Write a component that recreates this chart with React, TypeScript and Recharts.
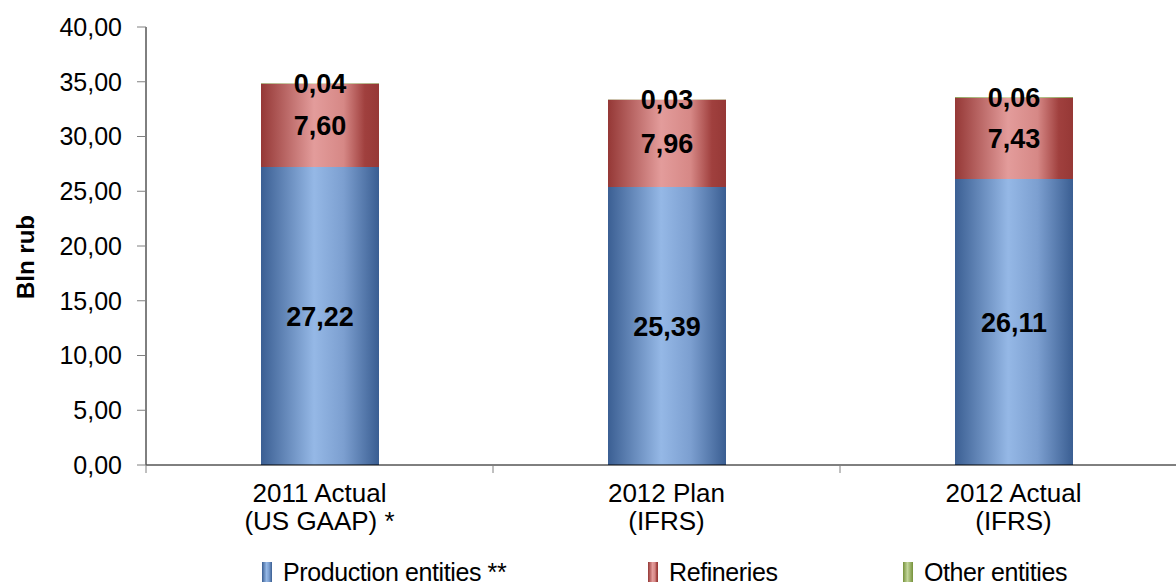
import { BarChart, Bar, XAxis, YAxis, Legend, LabelList } from 'recharts'

const categoryTop = ['2011 Actual', '2012 Plan', '2012 Actual']
const categoryBottom = ['(US GAAP) *', '(IFRS)', '(IFRS)']
const production = [27.22, 25.39, 26.11]
const refineries = [7.6, 7.96, 7.43]
const other = [0.04, 0.03, 0.06]
const yTicks = [0, 5, 10, 15, 20, 25, 30, 35, 40]

const seriesNames = ['Production entities **', 'Refineries', 'Other entities']

const data = categoryTop.map((name, i) => ({
  name,
  sub: categoryBottom[i],
  production: production[i],
  refineries: refineries[i],
  other: other[i]
}))

const FONT = '"Liberation Sans", Arial, sans-serif'
const comma = (v: any) => Number(v).toFixed(2).replace('.', ',')

function CategoryTick(props: any) {
  const { x, y, payload, index } = props
  const half = payload && payload.offset ? payload.offset : 173.5
  const row = data[index] || data.find(d => d.name === payload.value)
  return (
    <g>
      <line x1={x - half} x2={x - half} y1={y - 9} y2={y} stroke="#808080" />
      <text x={x} y={y + 29} textAnchor="middle" fontSize={26} fill="#000" fontFamily={FONT}>
        <tspan x={x}>{payload.value}</tspan>
        <tspan x={x} dy={28}>{row ? row.sub : ''}</tspan>
      </text>
    </g>
  )
}

// rotated axis title, a bit below the plot's middle
function AxisTitle(props: any) {
  const vb = props.viewBox || { y: 27, height: 438 }
  const cx = 25
  const cy = vb.y + vb.height / 2 + 11
  return (
    <text
      x={cx}
      y={cy}
      transform={`rotate(-90, ${cx}, ${cy})`}
      textAnchor="middle"
      dominantBaseline="central"
      fontSize={24}
      fontWeight="bold"
      fill="#000"
      fontFamily={FONT}
    >
      Bln rub
    </text>
  )
}

const legendFills = ['url(#gBlue)', 'url(#gRed)', 'url(#gGreen)']
const legendLeft = [262, 648, 903]

function LegendBox() {
  return (
    <div style={{ position: 'relative', height: 50, width: 1200, fontFamily: FONT }}>
      {seriesNames.map((n, i) => (
        <div
          key={n}
          style={{ position: 'absolute', left: legendLeft[i], bottom: 0, display: 'flex', alignItems: 'center', height: 26 }}
        >
          <svg width={10} height={20} style={{ marginRight: 11 }}>
            <rect x={0} y={0} width={10} height={20} fill={legendFills[i]} />
          </svg>
          <span style={{ fontSize: 25, color: '#000', whiteSpace: 'nowrap', letterSpacing: -0.4 }}>{n}</span>
        </div>
      ))}
    </div>
  )
}

export default function App() {
  return (
    <div style={{ position: 'absolute', left: 0, top: 0, width: 1176, height: 585, overflow: 'hidden', background: '#fff' }}>
      <BarChart
        width={1200}
        height={585}
        data={data}
        margin={{ top: 27, right: 13, left: 0, bottom: 0 }}
      >
        <defs>
          <linearGradient id="gBlue" x1="0" y1="0" x2="1" y2="0">
            <stop offset="0%" stopColor="#3B5F93" />
            <stop offset="45%" stopColor="#95B8E6" />
            <stop offset="70%" stopColor="#7C9FD0" />
            <stop offset="100%" stopColor="#3A5E92" />
          </linearGradient>
          <linearGradient id="gRed" x1="0" y1="0" x2="1" y2="0">
            <stop offset="0%" stopColor="#953836" />
            <stop offset="45%" stopColor="#E39C9B" />
            <stop offset="70%" stopColor="#D68886" />
            <stop offset="88%" stopColor="#A0403E" />
            <stop offset="100%" stopColor="#963836" />
          </linearGradient>
          <linearGradient id="gGreen" x1="0" y1="0" x2="1" y2="0">
            <stop offset="0%" stopColor="#76923B" />
            <stop offset="45%" stopColor="#C3D69B" />
            <stop offset="100%" stopColor="#76923B" />
          </linearGradient>
        </defs>
        <XAxis
          dataKey="name"
          height={70}
          stroke="#000"
          tickLine={false}
          interval={0}
          tick={<CategoryTick />}
        />
        <YAxis
          width={146}
          domain={[0, 40]}
          ticks={yTicks}
          interval={0}
          tickFormatter={comma}
          stroke="#000"
          tickLine={{ stroke: '#808080' }}
          tickSize={9}
          tickMargin={15}
          tick={{ fill: '#000', fontSize: 25, fontFamily: FONT }}
          label={<AxisTitle />}
        />
        <Legend verticalAlign="bottom" content={<LegendBox />} />
        <Bar dataKey="production" stackId="a" fill="url(#gBlue)" barSize={118} isAnimationActive={false} name={seriesNames[0]}>
          <LabelList dataKey="production" position="center" formatter={comma} fill="#000" fontSize={27} fontWeight="bold" fontFamily={FONT} />
        </Bar>
        <Bar dataKey="refineries" stackId="a" fill="url(#gRed)" barSize={118} isAnimationActive={false} name={seriesNames[1]}>
          <LabelList dataKey="refineries" position="center" formatter={comma} fill="#000" fontSize={27} fontWeight="bold" fontFamily={FONT} />
        </Bar>
        <Bar dataKey="other" stackId="a" fill="url(#gGreen)" barSize={118} isAnimationActive={false} name={seriesNames[2]}>
          <LabelList dataKey="other" position="center" formatter={comma} fill="#000" fontSize={27} fontWeight="bold" fontFamily={FONT} />
        </Bar>
      </BarChart>
    </div>
  )
}
